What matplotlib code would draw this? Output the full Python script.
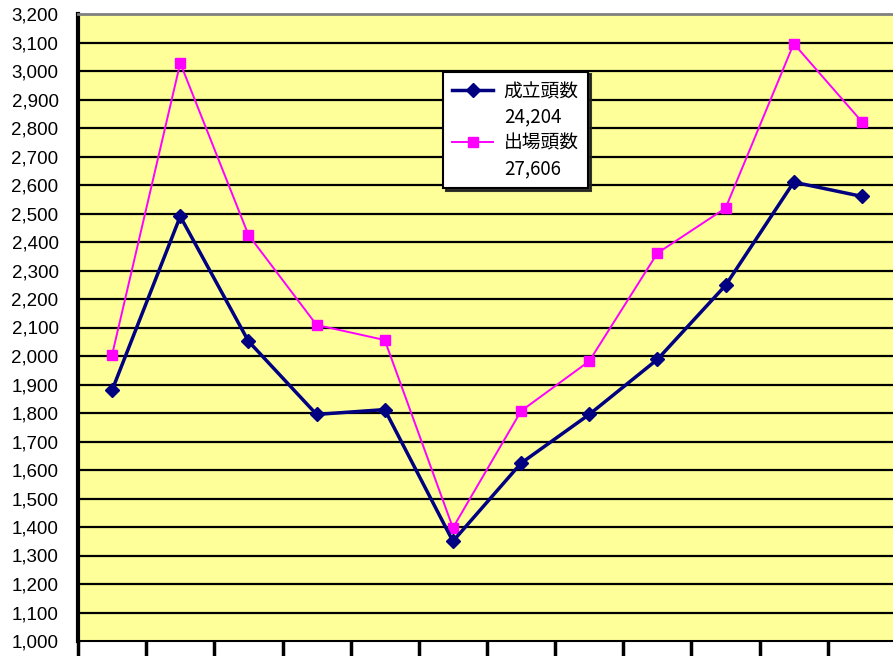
import matplotlib.pyplot as plt
from matplotlib.lines import Line2D

plt.rcParams['font.family'] = ['Liberation Sans', 'Noto Sans CJK JP', 'DejaVu Sans']

# monthly head counts
months = list(range(1, 13))
seiritsu = [1880, 2490, 2052, 1795, 1812, 1350, 1624, 1795, 1988, 2248, 2610, 2560]
shutsujo = [2004, 3028, 2425, 2109, 2056, 1397, 1807, 1982, 2361, 2519, 3096, 2822]
series_names = ['成立頭数', '出場頭数']
yticks = list(range(1000, 3201, 100))

fig = plt.figure(figsize=(8.93, 6.56), dpi=100)
ax = fig.add_axes([78 / 893, 15 / 656, 818 / 893, 627 / 656])
ax.set_facecolor('#FFFF99')

ax.plot(months, seiritsu, color='#000080', lw=2.5, marker='D', ms=7.5, zorder=4)
ax.plot(months, shutsujo, color='#FF00FF', lw=1.4, marker='s', ms=7.5, zorder=3)

ax.set_xlim(0.5, 12.5)
ax.set_ylim(1000, 3200)
ax.set_yticks(yticks)
ax.set_yticklabels([f'{v:,}' for v in yticks], fontsize=13.5)
ax.tick_params(axis='y', length=0, pad=14)
ax.set_xticks([m + 0.5 for m in range(0, 12)])
ax.set_xticklabels([])
ax.tick_params(axis='x', direction='out', length=16, width=2.5, color='black')

for v in yticks[1:-1]:
    ax.axhline(v, color='black', lw=1.6, zorder=1)

ax.spines['left'].set_linewidth(3)
ax.spines['left'].set_color('black')
ax.spines['bottom'].set_linewidth(1.5)
ax.spines['top'].set_color('#808080')
ax.spines['top'].set_linewidth(2)
ax.spines['right'].set_visible(False)

handles = [
    Line2D([], [], color='#000080', lw=2.5, marker='D', ms=7.5),
    Line2D([], [], color='none'),
    Line2D([], [], color='#FF00FF', lw=1.4, marker='s', ms=7.5),
    Line2D([], [], color='none'),
]
labels = [series_names[0], f'{sum(seiritsu):,}', series_names[1], f'{sum(shutsujo):,}']
leg = ax.legend(handles, labels, loc='upper left', bbox_to_anchor=(0.446, 0.908),
                borderaxespad=0, fancybox=False, shadow={'color': '#202020', 'alpha': 0.9},
                framealpha=1, edgecolor='black', handlelength=2.2,
                labelspacing=0.25, borderpad=0.5, handletextpad=0.55,
                prop={'family': ['Noto Sans CJK JP', 'DejaVu Sans'], 'size': 13.5})
leg.get_frame().set_linewidth(1.5)
leg.set_zorder(5)

fig.savefig('out.png', dpi=100)
